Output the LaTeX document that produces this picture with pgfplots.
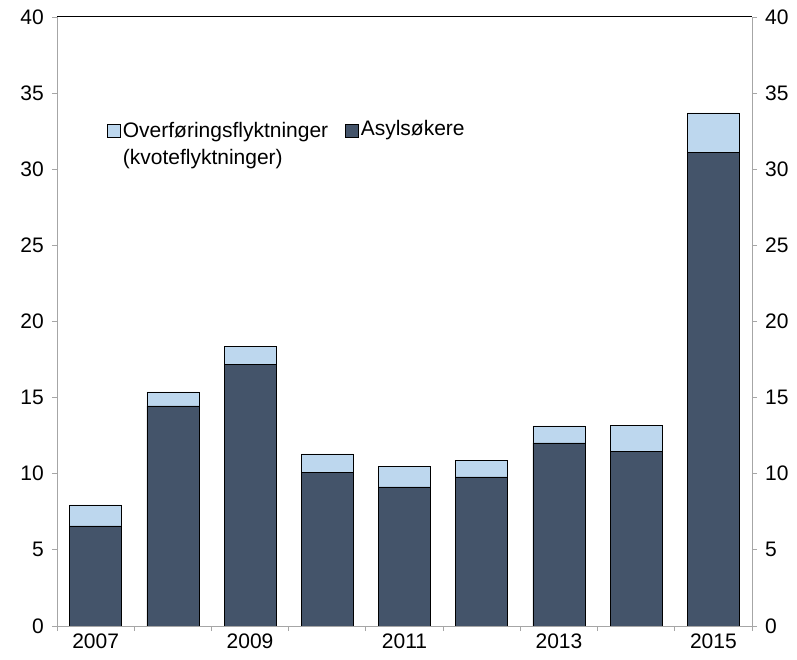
\documentclass[border=0pt]{standalone}
\usepackage{fontspec}
\setmainfont{Liberation Sans}
\usepackage{pgfplots}
\pgfplotsset{compat=1.18}
\definecolor{darkbar}{HTML}{44546A}
\definecolor{lightbar}{HTML}{BDD7EE}
\definecolor{axgray}{HTML}{A6A6A6}
\newcommand{\chartfont}{\fontsize{21bp}{25bp}\selectfont}
\pgfplotsset{mybarlegend/.style={legend image code/.code={\draw[##1] (0bp,-8bp) rectangle (13bp,5bp);}}}
\begin{document}
\chartfont
\begin{tikzpicture}
\path[use as bounding box] (-57bp,-34bp) rectangle (740bp,626bp);
\begin{axis}[
  at={(0,0)}, anchor=south west,
  scale only axis, width=695bp, height=609bp,
  xmin=-0.5, xmax=8.5, ymin=0, ymax=40,
  ybar stacked, bar width=0.673,
  axis x line*=bottom, axis y line*=left,
  axis line style={axgray, line width=0.9pt},
  xtick={0,2,4,6,8}, xticklabels={2007,2009,2011,2013,2015},
  major x tick style={draw=none},
  minor xtick={-0.5,0.5,...,8.5},
  minor tick length=5bp, major tick length=5bp,
  tick align=outside,
  every tick/.style={axgray, line width=0.9pt},
  ytick={0,5,...,40},
  /pgf/number format/assume math mode=true,
  tick label style={font=\chartfont, black},
  yticklabel style={xshift=-1bp},
  xticklabel style={yshift=-2bp, inner sep=1bp},
  legend style={at={(0.072,0.837)}, anchor=north west, draw=none, fill=none,
    font=\fontsize{21bp}{27bp}\selectfont, legend columns=2,
    /tikz/every even column/.append style={column sep=15bp},
    legend cell align=left, inner sep=0pt},
  reverse legend,
]
\addplot[fill=darkbar, draw=black, line width=0.6pt, mybarlegend]
  coordinates {(0,6.57) (1,14.45) (2,17.2) (3,10.1) (4,9.13) (5,9.79) (6,12.02) (7,11.49) (8,31.13)};
\addlegendentry{Asylsøkere}
\addplot[fill=lightbar, draw=black, line width=0.6pt, mybarlegend]
  coordinates {(0,1.38) (1,0.92) (2,1.19) (3,1.2) (4,1.37) (5,1.11) (6,1.12) (7,1.71) (8,2.57)};
\addlegendentry{\begin{tabular}[t]{@{}l@{}}Overføringsflyktninger\\(kvoteflyktninger)\end{tabular}}
\draw[black, line width=1pt] (rel axis cs:0,1) -- (rel axis cs:1,1);
\end{axis}
\begin{axis}[
  at={(0,0)}, anchor=south west,
  scale only axis, width=695bp, height=609bp,
  xmin=-0.5, xmax=8.5, ymin=0, ymax=40,
  axis x line=none, axis y line*=right,
  axis line style={axgray, line width=0.9pt},
  ytick={0,5,...,40}, major tick length=5bp, tick align=outside,
  every tick/.style={axgray, line width=0.9pt},
  /pgf/number format/assume math mode=true,
  tick label style={font=\chartfont, black},
  yticklabel style={xshift=1bp},
]
\addplot[draw=none] coordinates {(0,0)};
\end{axis}
\end{tikzpicture}
\end{document}
